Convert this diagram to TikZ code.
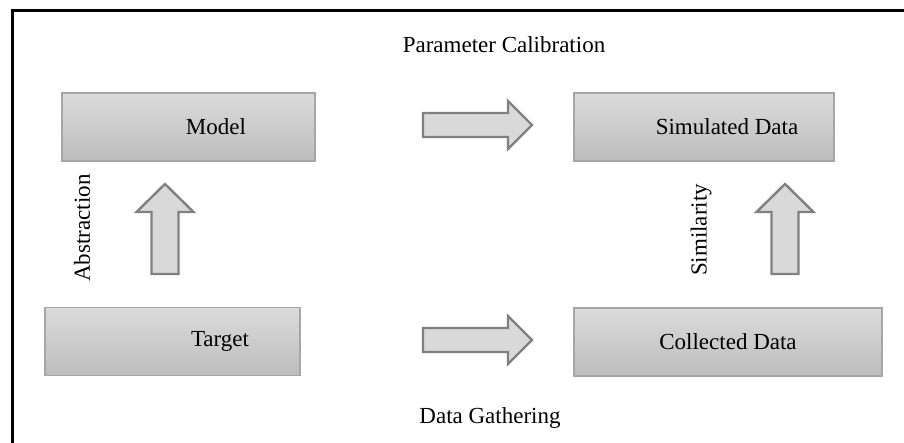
\documentclass[tikz,border=0pt]{standalone}
\usepackage{fontspec}
\setmainfont{Liberation Serif}
\begin{document}
\begin{tikzpicture}[x=1pt,y=-1pt,
  box/.style={draw=black!35, line width=1.2pt, top color=black!14, bottom color=black!26,
    minimum height=68pt, inner sep=0pt},
  txt/.style={font=\fontsize{23}{27}\selectfont, inner sep=0pt},
  fat/.style={draw=black!50, fill=black!15, line width=2.4pt, line join=miter},
  lbl/.style={font=\fontsize{23}{27}\selectfont, inner sep=0pt}]
  \useasboundingbox (0,0) rectangle (904,443);
  % frame
  \draw[line width=3pt] (12,443) -- (12,11) -- (904,11);

  % stages: box outlines, captions placed inside them
  \node[box, minimum width=253pt] (model)  at (188.5,127) {};
  \node[box, minimum width=260pt] (sim)    at (704,127) {};
  \node[box, minimum width=255pt] (target) at (172.5,341.5) {};
  \node[box, minimum width=308pt] (coll)   at (728,342) {};
  \node[txt] (modelt)  at (216,127) {Model};
  \node[txt] (simt)    at (727,127) {Simulated Data};
  \node[txt] (targett) at (220,341.5) {Target};
  \node[txt] (collt)   at (728,342) {Collected Data};

  % block arrows
  \foreach \y in {125,340} {
    \draw[fat,shift={(423,\y)}] (0,-12) -- (85,-12) -- (85,-24) -- (109,0) -- (85,24) -- (85,12) -- (0,12) -- cycle;
  }
  \foreach \x in {165,785} {
    \draw[fat,shift={(\x,274)}] (-13.5,0) -- (-13.5,-62) -- (-28.5,-62) -- (0,-90) -- (28.5,-62) -- (13.5,-62) -- (13.5,0) -- cycle;
  }

  % labels
  \node[lbl] (calib) at (504,45) {Parameter Calibration};
  \node[lbl] (gather) at (490,418) {Data Gathering};
  \node[lbl, rotate=90] (abs) at (82,228) {Abstraction};
  \node[lbl, rotate=90] (simil) at (701,230) {Similarity};
\end{tikzpicture}
\end{document}
